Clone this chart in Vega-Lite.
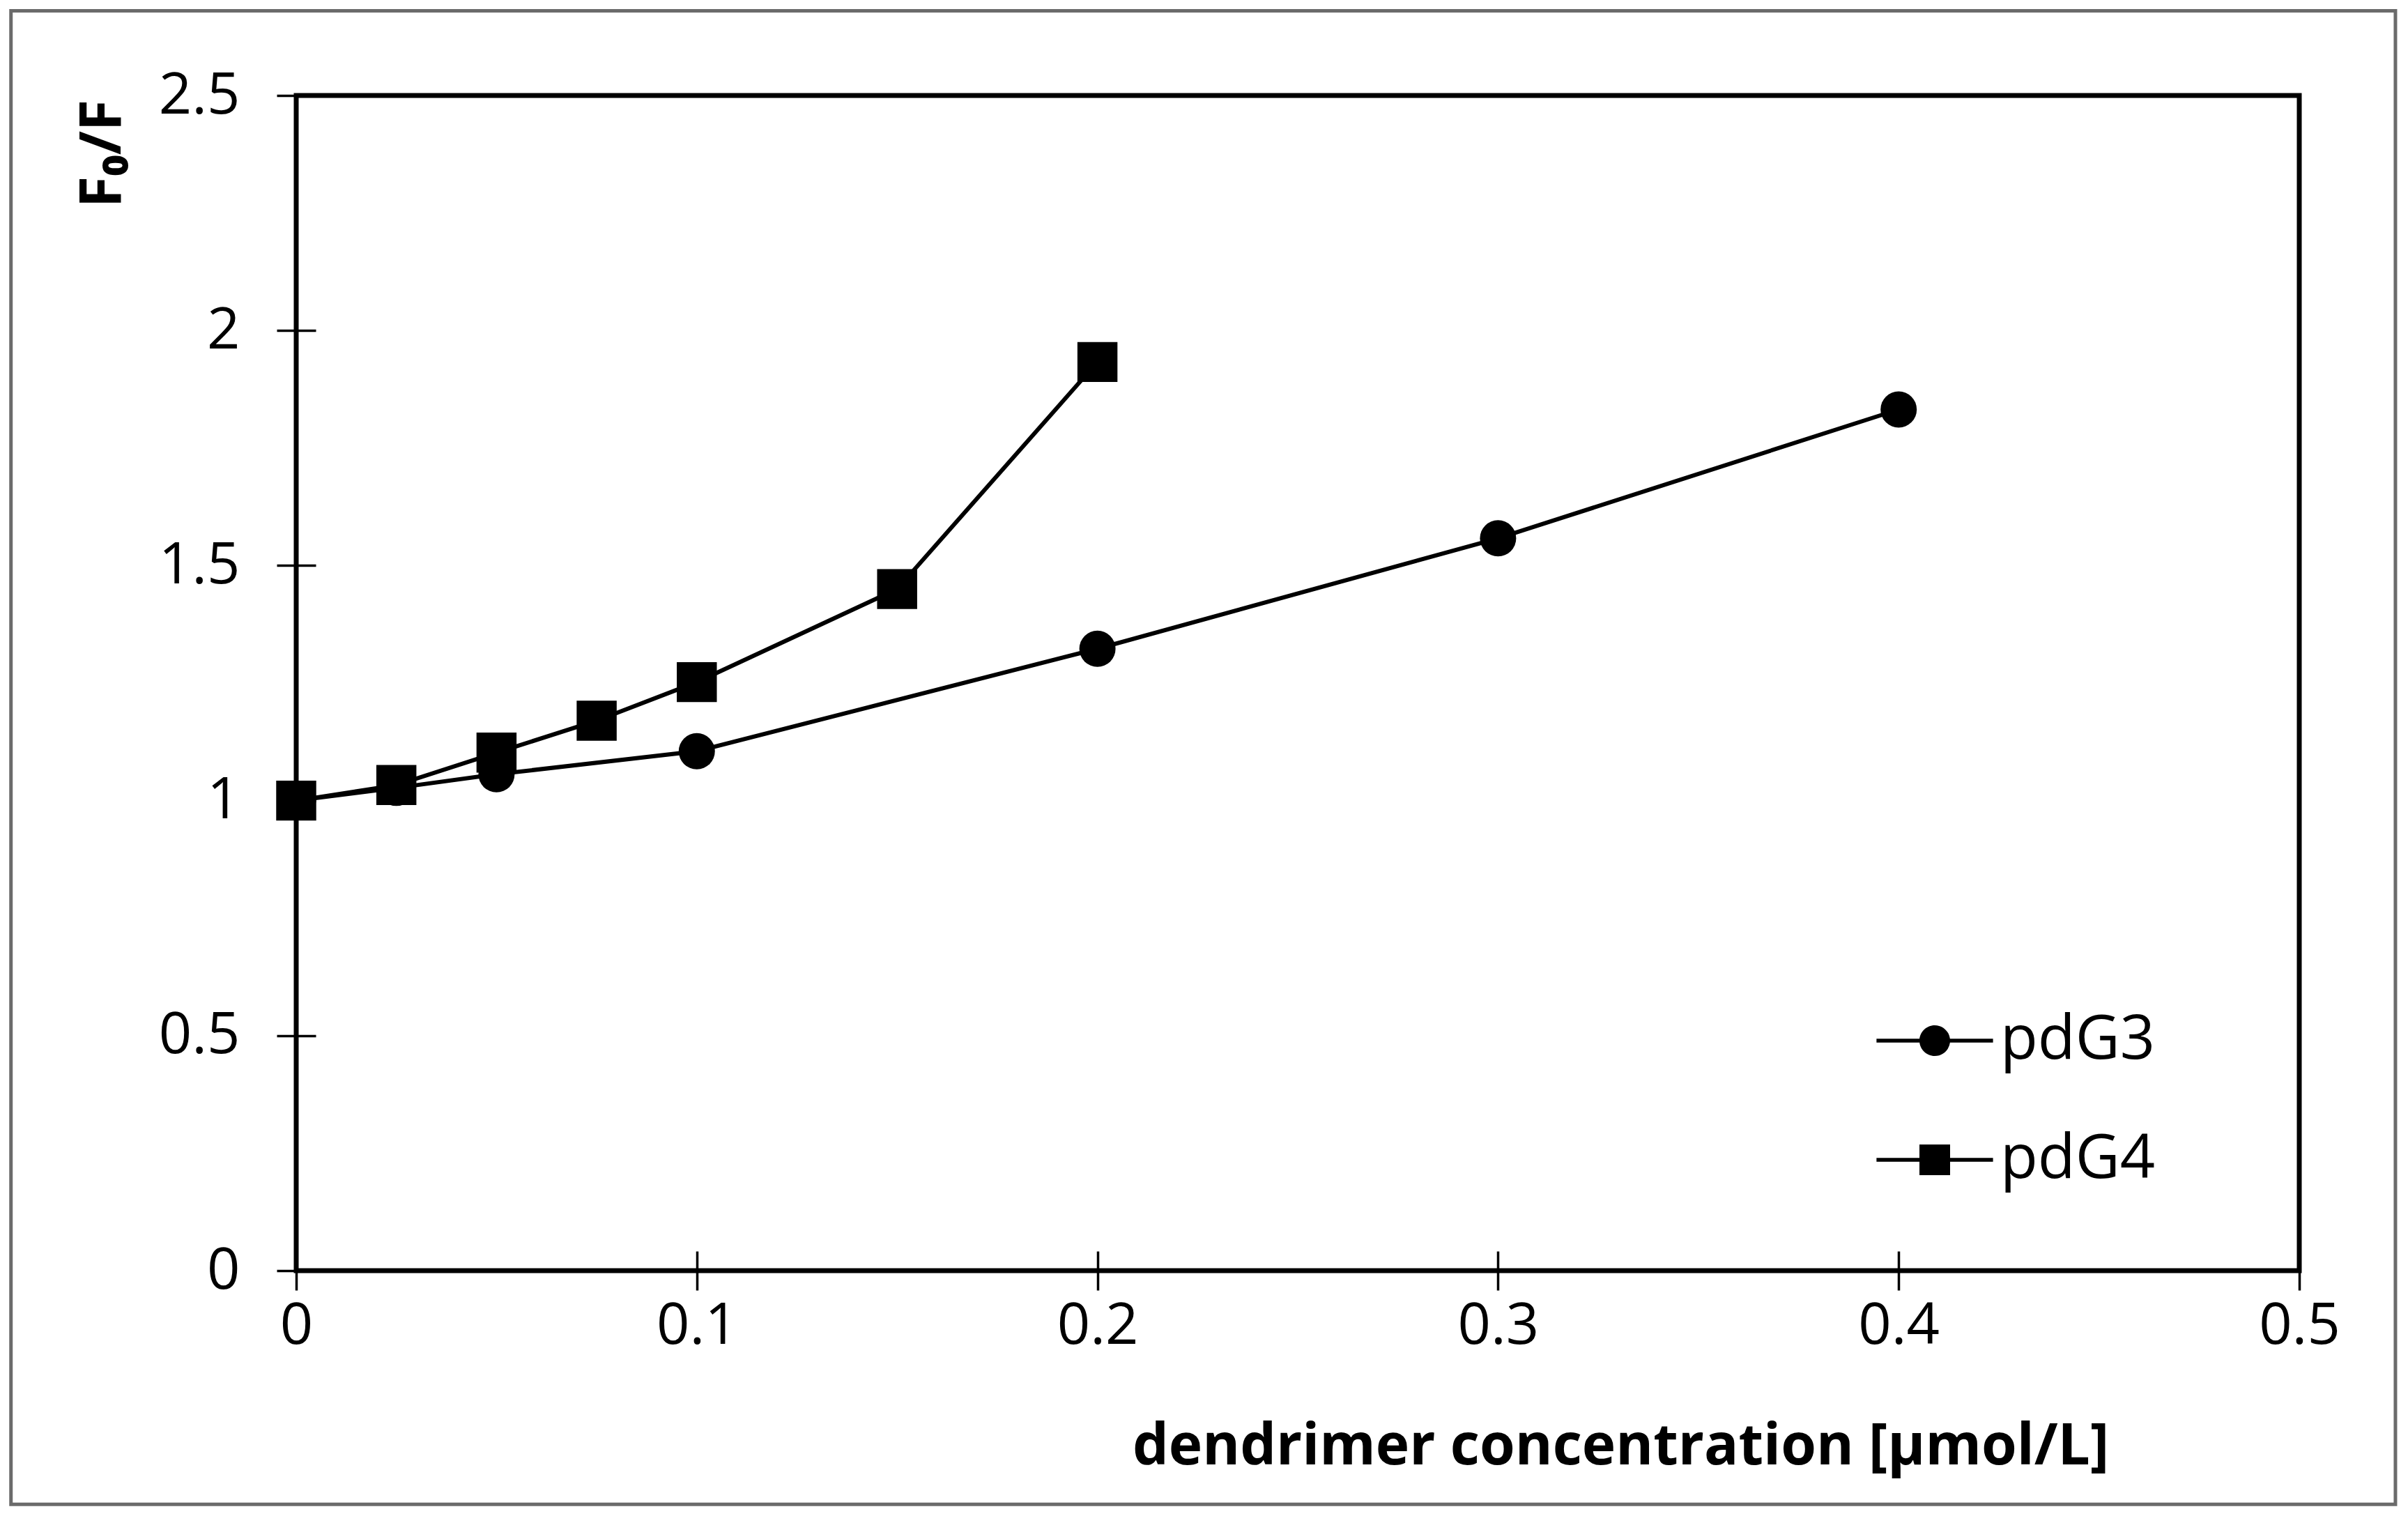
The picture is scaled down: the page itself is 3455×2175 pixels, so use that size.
{
  "$schema": "https://vega.github.io/schema/vega-lite/v6.json",
  "width": 2874,
  "height": 1686,
  "autosize": {"type": "none"},
  "padding": {"left": 425, "top": 137, "right": 156, "bottom": 352},
  "background": "white",
  "config": {
    "view": {"stroke": "black", "strokeWidth": 7},
    "font": "Open Sans"
  },
  "data": {
    "values": [
      {"series": "pdG3", "conc": 0, "ratio": 1.0},
      {"series": "pdG3", "conc": 0.025, "ratio": 1.027},
      {"series": "pdG3", "conc": 0.05, "ratio": 1.056},
      {"series": "pdG3", "conc": 0.1, "ratio": 1.105},
      {"series": "pdG3", "conc": 0.2, "ratio": 1.323},
      {"series": "pdG3", "conc": 0.3, "ratio": 1.558},
      {"series": "pdG3", "conc": 0.4, "ratio": 1.832},
      {"series": "pdG4", "conc": 0, "ratio": 1.0},
      {"series": "pdG4", "conc": 0.025, "ratio": 1.033},
      {"series": "pdG4", "conc": 0.05, "ratio": 1.102},
      {"series": "pdG4", "conc": 0.075, "ratio": 1.17},
      {"series": "pdG4", "conc": 0.1, "ratio": 1.252},
      {"series": "pdG4", "conc": 0.15, "ratio": 1.45},
      {"series": "pdG4", "conc": 0.2, "ratio": 1.933}
    ]
  },
  "layer": [
    {
      "data": {"values": [{"frame": "outer"}]},
      "mark": {"type": "rect", "filled": false, "stroke": "#6b6b6b", "strokeWidth": 5, "clip": false},
      "encoding": {
        "x": {"datum": -0.0712, "type": "quantitative", "scale": {"domain": [0, 0.5], "nice": false}},
        "x2": {"datum": 0.524},
        "y": {"datum": 2.68, "type": "quantitative", "scale": {"domain": [0, 2.5], "nice": false}},
        "y2": {"datum": -0.497}
      }
    },
    {
      "mark": {"type": "line", "color": "black", "strokeWidth": 6},
      "encoding": {
        "x": {"field": "conc", "type": "quantitative", "scale": {"domain": [0, 0.5], "nice": false},
          "axis": {
            "title": "dendrimer concentration [µmol/L]",
            "values": [0, 0.1, 0.2, 0.3, 0.4, 0.5],
            "format": "~g",
            "domain": false, "grid": false,
            "offset": -28, "tickSize": 56, "tickWidth": 3.5, "tickColor": "black",
            "labelFontSize": 83, "labelColor": "black", "labelPadding": 10, "labelFont": "Open Sans",
            "labelFlush": false, "labelOverlap": false,
            "titleFont": "Open Sans", "titleFontWeight": "bold", "titleFontSize": 82, "titleColor": "black",
            "titleX": 1900, "titleY": 305, "titleBaseline": "alphabetic", "titleAlign": "center"
          }
        },
        "y": {"field": "ratio", "type": "quantitative", "scale": {"domain": [0, 2.5], "nice": false},
          "axis": {
            "title": "F₀/F",
            "values": [0, 0.5, 1, 1.5, 2, 2.5],
            "format": "~g",
            "domain": false, "grid": false,
            "offset": -28, "tickSize": 56, "tickWidth": 3.5, "tickColor": "black",
            "labelFontSize": 83, "labelColor": "black", "labelPadding": 53, "labelFont": "Open Sans",
            "labelFlush": false, "labelOverlap": false,
            "titleFont": "Open Sans", "titleFontWeight": "bold", "titleFontSize": 82, "titleColor": "black",
            "titleX": -281, "titleY": 83, "titleAngle": -90, "titleBaseline": "alphabetic", "titleAlign": "center"
          }
        },
        "detail": {"field": "series", "type": "nominal"},
        "order": {"field": "conc", "type": "quantitative"}
      }
    },
    {
      "transform": [{"filter": "datum.series === 'pdG3'"}],
      "mark": {"type": "circle", "color": "black", "opacity": 1, "size": 2700},
      "encoding": {
        "x": {"field": "conc", "type": "quantitative", "scale": {"domain": [0, 0.5], "nice": false}},
        "y": {"field": "ratio", "type": "quantitative", "scale": {"domain": [0, 2.5], "nice": false}}
      }
    },
    {
      "transform": [{"filter": "datum.series === 'pdG4'"}],
      "mark": {"type": "square", "color": "black", "opacity": 1, "size": 3300},
      "encoding": {
        "x": {"field": "conc", "type": "quantitative", "scale": {"domain": [0, 0.5], "nice": false}},
        "y": {"field": "ratio", "type": "quantitative", "scale": {"domain": [0, 2.5], "nice": false}}
      }
    },
    {
      "transform": [{"filter": "datum.conc < 0"}],
      "mark": {"type": "point", "filled": true, "color": "black", "opacity": 1},
      "encoding": {
        "x": {"field": "conc", "type": "quantitative", "scale": {"domain": [0, 0.5], "nice": false}},
        "y": {"field": "ratio", "type": "quantitative", "scale": {"domain": [0, 2.5], "nice": false}},
        "shape": {
          "field": "series", "type": "nominal",
          "scale": {
            "domain": ["pdG3", "pdG4"],
            "range": [
              "M-3.8,-0.13H3.8V0.13H-3.8ZM1,0A1,1,0,1,1,-1,0A1,1,0,1,1,1,0Z",
              "M-3.8,-0.13H3.8V0.13H-3.8ZM-1,-1H1V1H-1Z"
            ]
          },
          "legend": {
            "orient": "none", "legendX": 2307, "legendY": 1312,
            "title": null,
            "symbolSize": 1936,
            "symbolFillColor": "black", "symbolStrokeColor": "black", "symbolStrokeWidth": 1,
            "symbolOpacity": 1,
            "labelFontSize": 88, "labelFont": "Open Sans", "labelColor": "black", "labelLimit": 0,
            "labelOffset": 50, "rowPadding": 83, "padding": 0
          }
        }
      }
    }
  ]
}
